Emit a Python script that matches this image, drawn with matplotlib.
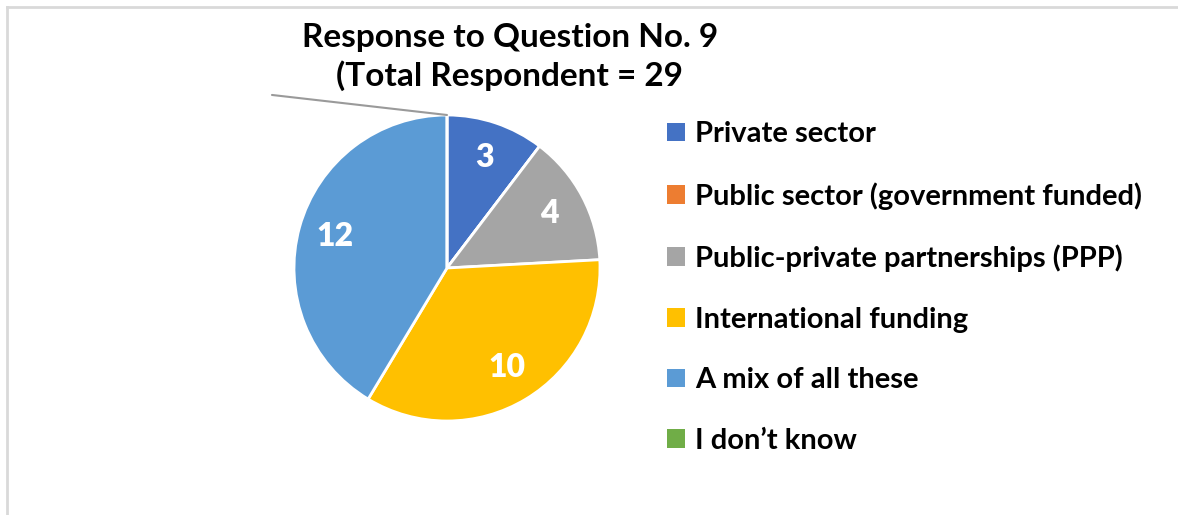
import matplotlib.pyplot as plt
from matplotlib.lines import Line2D
from matplotlib.patches import Patch

plt.rcParams['font.family'] = ['Lato', 'DejaVu Sans']
plt.rcParams['font.weight'] = 'bold'

labels = ['Private sector', 'Public sector (government funded)',
          'Public-private partnerships (PPP)', 'International funding',
          'A mix of all these', 'I don\u2019t know']
counts = [3, 0, 4, 10, 12, 0]
colors = ['#4472C4', '#ED7D31', '#A5A5A5', '#FFC000', '#5B9BD5', '#70AD47']
title = 'Response to Question No. 9\n(Total Respondent = 29'

W, H = 1178, 515
fig = plt.figure(figsize=(W / 100, H / 100), dpi=100)

# pie axes: centre (447, 268) px, radius 153 px
cx, cy, r = 447, 268, 153
ax = fig.add_axes([(cx - r) / W, 1 - (cy + r) / H, 2 * r / W, 2 * r / H])


def show_count(pct):
    n = round(pct * sum(counts) / 100)
    return str(n) if n else ''


wedges, texts, autotexts = ax.pie(
    counts, colors=colors, startangle=90, counterclock=False,
    autopct=show_count, pctdistance=0.76, radius=1,
    wedgeprops=dict(edgecolor='white', linewidth=2))
for t in autotexts:
    t.set_color('white')
    t.set_fontsize(23)
    t.set_fontweight('heavy')
ax.set_xlim(-1, 1)
ax.set_ylim(-1, 1)
ax.set_aspect('equal')
ax.axis('off')

# leader line of the empty "I don't know" slice at the top
ax.annotate('', xy=(0, 1.0), xytext=(-1.144, 1.131),
            arrowprops=dict(arrowstyle='-', color='#9a9a9a', lw=1.5,
                            shrinkA=0, shrinkB=0),
            annotation_clip=False)

fig.text(510 / W, 1 - 57 / H, title, ha='center', va='center',
         fontsize=24, fontweight='bold', color='black', linespacing=1.32)

handles = [Patch(facecolor=c, edgecolor='none') for c in colors]
leg = fig.legend(handles, labels, loc='upper left',
                 bbox_to_anchor=(641 / W, 1 - 95 / H), frameon=False,
                 prop=dict(family='Lato', weight='bold', size=21),
                 handlelength=0.6, handleheight=0.6, handletextpad=0.35,
                 labelspacing=1.19)

# chart border (top and left edges)
fig.add_artist(Line2D([7 / W, 1], [1 - 7 / H, 1 - 7 / H], color='#d9d9d9', lw=2))
fig.add_artist(Line2D([7 / W, 7 / W], [0, 1 - 7 / H], color='#d9d9d9', lw=2))

fig.savefig('out.png', dpi=100, facecolor='white')
